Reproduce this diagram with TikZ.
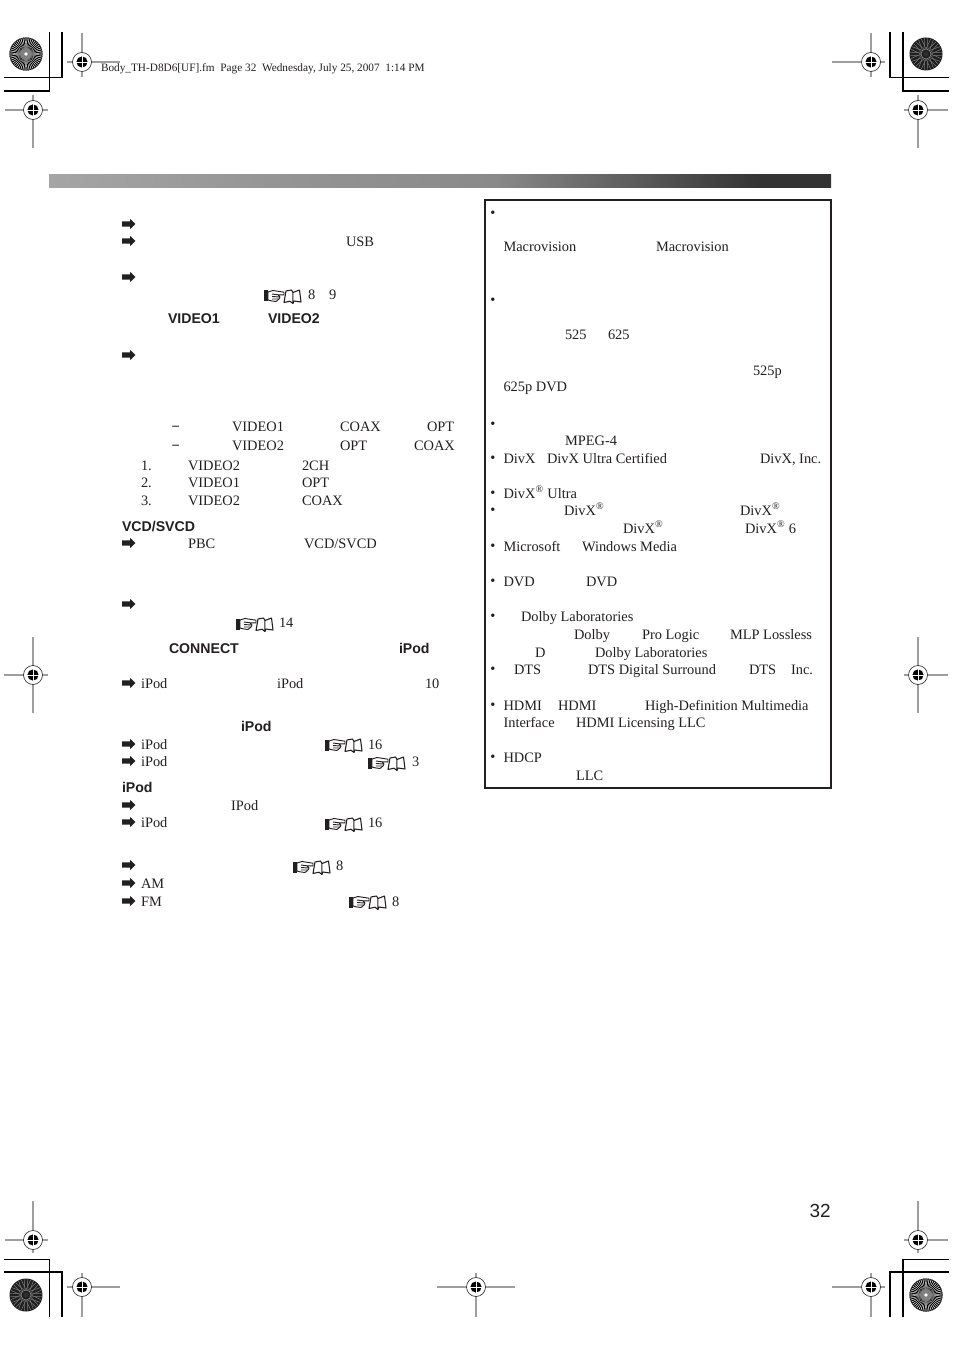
\documentclass[tikz,border=0pt]{standalone}
\usepackage{fontspec}
\setmainfont{Liberation Serif}
\setsansfont{Liberation Sans}
\definecolor{ink}{HTML}{231F20}
\definecolor{barA}{HTML}{A5A5A5}
\definecolor{barB}{HTML}{939393}
\definecolor{barC}{HTML}{8A8A8A}
\definecolor{barD}{HTML}{333333}
\pgfdeclarehorizontalshading{barshade}{100bp}{
  color(0bp)=(barA);
  color(25bp)=(barA);
  color(41bp)=(barB);
  color(53.4bp)=(barC);
  color(70.5bp)=(barD);
  color(100bp)=(barD)}
\tikzset{
  txt/.style={anchor=base west,inner sep=0pt,outer sep=0pt,text=ink,font=\fontsize{10.8}{12}\selectfont},
  bld/.style={txt,font=\fontsize{10.6}{12}\selectfont\sffamily\bfseries},
  hdr/.style={txt,font=\fontsize{8.46}{9}\selectfont},
  pageno/.style={txt,font=\fontsize{14.2}{16}\selectfont\sffamily},
  crop/.style={draw=black,line width=0.8pt},
  regline/.style={draw=black!38,line width=0.9pt},
  frame/.style={draw=ink,line width=1.5pt},
  arrowicon/.pic={
    \fill[ink] (0,-2.6) -- (8,-2.6) -- (8,-5.2) -- (13.5,0) -- (8,5.2) -- (8,2.6) -- (0,2.6) -- cycle;
  },
  handbook/.pic={
    \fill[ink] (0,-5.5) rectangle (4,5.5);
    \draw[ink,line width=0.7pt,line join=round,fill=white]
      (4,-4) -- (9,-5.5) -- (20,-3.8) -- (20,-1.2) -- (14,-1.2) -- (16,1) -- (15,3) -- (12,5.5) -- (7,4.8) -- (4,4) -- cycle;
    \draw[ink,line width=0.7pt] (8,-2) -- (14,-1.2) (8,0.5) -- (15.5,1) (8,3) -- (14.5,3);
    \draw[ink,line width=0.8pt,line join=round]
      (22,-5) -- (27.5,-6) -- (29,-3.5) -- (35.5,-6) -- (37,6) -- (30,5) -- (29,7.5) -- (26,5.2) -- (20,6.5) -- cycle
      (28.8,-3.5) -- (29,7);
  }
}
\newcommand{\regmark}[6]{% cx cy x1 x2 y1 y2
  \draw[regline] (#3,#2) -- (#4,#2);
  \draw[regline] (#1,#5) -- (#1,#6);
  \fill[white] (#1,#2) circle[radius=9.5];
  \draw[ink,line width=0.45pt] (#1,#2) circle[radius=9.5];
  \fill[black] (#1,#2) circle[radius=5.6];
  \draw[white,line width=0.6pt] (#1-6,#2) -- (#1+6,#2) (#1,#2-6) -- (#1,#2+6);
}
\newcommand{\burstlight}[2]{%
  \fill[white] (#1,#2) circle[radius=16.5];
  \foreach \a in {0,7.5,...,352.5}{
    \fill[black] (#1,#2) -- ++(\a-2.2:16.5) arc[start angle=\a-2.2,end angle=\a+2.2,radius=16.5] -- cycle;
  }
  \draw[black!85,line width=0.5pt] (#1,#2) circle[radius=16.2];
  \fill[black!50] (#1,#2) circle[radius=6];
  \fill[white] (#1,#2) circle[radius=1.8];
}
\newcommand{\burstdark}[2]{%
  \fill[black!88] (#1,#2) circle[radius=16.5];
  \foreach \a in {0,22.5,...,337.5}{
    \draw[black!50,line width=0.35pt] (#1,#2) ++(\a:5) -- ++(\a+25:11);
    \draw[black!50,line width=0.35pt] (#1,#2) ++(\a:5) -- ++(\a-25:11);
  }
  \draw[black!45,line width=0.4pt] (#1,#2) circle[radius=5];
  \fill[black!82] (#1,#2) circle[radius=2.5];
}
\begin{document}
\begin{tikzpicture}[x=0.75pt,y=-0.75pt]
\useasboundingbox (0,0) rectangle (954,1351);
\fill[white] (0,0) rectangle (954,1351);
% header
\node[hdr] (head) at (101,72) {Body\_TH-D8D6[UF].fm\ \ Page 32\ \ Wednesday, July 25, 2007\ \ 1:14 PM};
\node[pageno] (pg) at (809.5,1217) {32};
% gradient bar
\shade[shading=barshade] (49,175) rectangle (831,188);
% crop marks
\draw[crop] (62,32) -- (62,77.5) -- (4,77.5);
\draw[crop] (49.5,32) -- (49.5,91) -- (4,91);
\draw[crop] (890,32) -- (890,77.5) -- (949,77.5);
\draw[crop] (903,32) -- (903,91) -- (949,91);
\draw[crop] (4,1259.5) -- (49.5,1259.5) -- (49.5,1317);
\draw[crop] (4,1272) -- (62,1272) -- (62,1317);
\draw[crop] (949,1259.5) -- (903,1259.5) -- (903,1317);
\draw[crop] (949,1272) -- (890,1272) -- (890,1317);
% print bursts
\burstlight{26}{54}
\burstdark{926}{54}
\burstdark{26}{1295}
\burstlight{926}{1295}
% registration marks
\regmark{82}{62}{67}{120}{33}{77}
\regmark{33}{110}{5}{48}{95}{148}
\regmark{871}{62}{832}{885}{33}{77}
\regmark{918}{110}{904}{948}{95}{148}
\regmark{33}{675}{4}{48}{637}{713}
\regmark{918}{675}{904}{948}{637}{713}
\regmark{33}{1240}{5}{48}{1201}{1253}
\regmark{82}{1287}{67}{120}{1273}{1317}
\regmark{476}{1287}{437}{515}{1273}{1317}
\regmark{871}{1287}{832}{885}{1273}{1317}
\regmark{918}{1240}{904}{948}{1201}{1253}
% arrows
\foreach \y in {224,241,277,355,543,604,683,744,761,805,822,865,883,901}
  \pic at (122,\y) {arrowicon};
% hand and book icons
\foreach \x/\y in {264/296,236/624,325/745,368/763,325/824,293/867,349/902}
  \pic at (\x,\y) {handbook};
% left column, body text
\foreach[count=\i] \x/\y/\s in {
  346/247/USB,
  308/300/8, 329/300/9,
  171.5/431/\textbf{−}, 232/431/VIDEO1, 340/431/COAX, 427/431/OPT,
  171.5/450/\textbf{−}, 232/450/VIDEO2, 340/450/OPT, 414/450/COAX,
  141/470/1., 188/470/VIDEO2, 302/470/2CH,
  141/487/2., 188/487/VIDEO1, 302/487/OPT,
  141/505/3., 188/505/VIDEO2, 302/505/COAX,
  188/548/PBC, 304/548/VCD\slash SVCD,
  279/627/14,
  141/688/iPod, 277/688/iPod, 425/688/10,
  141/749/iPod, 368/749/16,
  141/766/iPod, 412/766/3,
  231/810/IPod,
  141/827/iPod, 368/827/16,
  336/870/8,
  141/888/AM,
  141/906/FM, 392/906/8}
  \node[txt] (a\i) at (\x,\y) {\s};
% left column, bold text
\foreach[count=\i] \x/\y/\s in {
  168/324/VIDEO1, 268/324/VIDEO2,
  122/531/VCD\slash SVCD,
  169/653/CONNECT, 399/653/iPod,
  241/731/iPod,
  122/792/iPod}
  \node[bld] (b\i) at (\x,\y) {\s};
% note box
\draw[frame] (485,200.5) rectangle (831,788);
\foreach[count=\i] \y in {218,305,428,462,497,514,550,585,620,673,709,761}
  \node[txt] (d\i) at (490.3,\y) {•};
\foreach[count=\i] \x/\y/\s in {
  503.5/252/Macrovision, 656/252/Macrovision,
  565/340/525, 608/340/625,
  753/376/525p, 503.5/392/625p DVD,
  565/445/MPEG-4,
  503.5/463/DivX, 547/463/DivX Ultra Certified, 760/463/{DivX, Inc.},
  503.5/498/{DivX\textsuperscript{®} Ultra},
  564/515/{DivX\textsuperscript{®}}, 740/515/{DivX\textsuperscript{®}},
  623/533/{DivX\textsuperscript{®}}, 745/533/{DivX\textsuperscript{®} 6},
  503.5/551/Microsoft, 582/551/Windows Media,
  503.5/586/DVD, 586/586/DVD,
  521/621/Dolby Laboratories,
  574/639/Dolby, 642/639/Pro Logic, 730/639/MLP Lossless,
  535/657/D, 595/657/Dolby Laboratories,
  514/674/DTS, 588/674/DTS Digital Surround, 749/674/DTS, 791/674/Inc.,
  503.5/710/HDMI, 558/710/HDMI, 645/710/High-Definition Multimedia,
  503.5/727/Interface, 576/727/HDMI Licensing LLC,
  503.5/762/HDCP,
  576/780/LLC}
  \node[txt] (c\i) at (\x,\y) {\s};
\end{tikzpicture}
\end{document}
